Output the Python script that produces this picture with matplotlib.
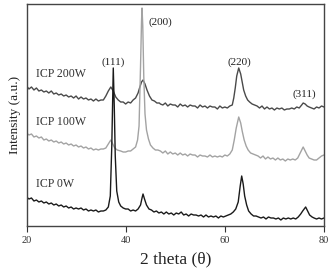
import matplotlib
matplotlib.use("Agg")
import matplotlib.pyplot as plt

plt.rcParams['font.family'] = ['Liberation Serif', 'DejaVu Serif']

# (2theta, intensity), arbitrary units
pts_200w = [
    (20, 140), (20.5, 137), (21, 139), (21.5, 136), (22, 138), (22.5, 135), (23, 136), (23.5, 134),
    (24, 135), (24.5, 133), (25, 135), (25.5, 132), (26, 133), (26.5, 131), (27, 132), (27.5, 130),
    (28, 131), (28.5, 129), (29, 130), (29.5, 128), (30, 130), (30.5, 127), (31, 129), (31.5, 127),
    (32, 128), (32.5, 126), (33, 127), (33.5, 125), (34, 127), (34.5, 125), (35, 126), (35.5, 126),
    (36, 130), (36.5, 135), (37, 139), (37.5, 135), (38, 129), (38.5, 126), (39, 124), (39.5, 124),
    (40, 122), (40.5, 124), (41, 123), (41.5, 126), (42, 128), (42.5, 133), (42.8, 138), (43.2, 144),
    (43.5, 146), (43.9, 142), (44.3, 136), (44.8, 130), (45.3, 126), (45.8, 125), (46.3, 123), (46.8, 123),
    (47, 122), (47.5, 121), (48, 123), (48.5, 120), (49, 122), (49.5, 121), (50, 121), (50.5, 119),
    (51, 122), (51.5, 120), (52, 121), (52.5, 119), (53, 121), (53.5, 120), (54, 120), (54.5, 118),
    (55, 121), (55.5, 119), (56, 120), (56.5, 118), (57, 120), (57.5, 119), (58, 119), (58.5, 117),
    (59, 120), (59.5, 118), (60, 119), (60.5, 118), (61, 120), (61.5, 121), (61.8, 128), (62.1, 138),
    (62.4, 150), (62.8, 158), (63.2, 152), (63.5, 144), (63.8, 136), (64.2, 130), (64.6, 126), (65, 124),
    (65.5, 122), (66, 121), (66.5, 120), (67, 118), (67.5, 120), (68, 117), (68.5, 119), (69, 117),
    (69.5, 118), (70, 116), (70.5, 118), (71, 117), (71.5, 118), (72, 116), (72.5, 117), (73, 117),
    (73.5, 118), (74, 117), (74.5, 119), (75, 118), (75.5, 121), (75.8, 123), (76.2, 122), (76.6, 120),
    (77, 119), (77.5, 118), (78, 117), (78.5, 119), (79, 118), (79.5, 120), (80, 119),
]

pts_100w = [
    (20, 93), (20.5, 91), (21, 92), (21.5, 89), (22, 90), (22.5, 88), (23, 89), (23.5, 86),
    (24, 87), (24.5, 85), (25, 86), (25.5, 84), (26, 85), (26.5, 83), (27, 84), (27.5, 82),
    (28, 83), (28.5, 81), (29, 82), (29.5, 80), (30, 81), (30.5, 79), (31, 80), (31.5, 78),
    (32, 79), (32.5, 77), (33, 78), (33.5, 76), (34, 77), (34.5, 76), (35, 77), (35.5, 77),
    (36, 78), (36.5, 82), (37, 86), (37.4, 82), (37.8, 78), (38.3, 76), (39, 75), (39.5, 74),
    (40, 74), (40.5, 75), (41, 75), (41.5, 77), (42, 79), (42.4, 86), (42.7, 100), (43.0, 160),
    (43.2, 205), (43.3, 218), (43.45, 200), (43.65, 150), (43.9, 112), (44.2, 96), (44.6, 87), (45, 81),
    (45.5, 78), (46, 76), (46.5, 76), (47, 75), (47.5, 73), (48, 75), (48.5, 72), (49, 74),
    (49.5, 72), (50, 73), (50.5, 71), (51, 73), (51.5, 71), (52, 72), (52.5, 70), (53, 72),
    (53.5, 71), (54, 71), (54.5, 69), (55, 71), (55.5, 70), (56, 70), (56.5, 69), (57, 71),
    (57.5, 69), (58, 70), (58.5, 69), (59, 70), (59.5, 69), (60, 71), (60.5, 70), (61, 72),
    (61.5, 76), (61.9, 86), (62.3, 98), (62.8, 109), (63.2, 103), (63.5, 95), (63.9, 86), (64.3, 80),
    (64.7, 76), (65.2, 73), (65.7, 72), (66.2, 71), (66.7, 70), (67.2, 68), (67.7, 70), (68.2, 67),
    (68.7, 69), (69.2, 67), (69.7, 68), (70.2, 66), (70.7, 68), (71.2, 66), (71.7, 67), (72.2, 65),
    (72.7, 67), (73.2, 66), (73.7, 67), (74.2, 66), (74.7, 68), (75.1, 72), (75.5, 76), (75.8, 79),
    (76.2, 75), (76.6, 71), (77, 68), (77.5, 67), (78, 66), (78.5, 66), (79, 68), (79.5, 70), (80, 71),
]

pts_0w = [
    (20, 29), (20.5, 27), (21, 28), (21.5, 25), (22, 26), (22.5, 24), (23, 25), (23.5, 23),
    (24, 24), (24.5, 22), (25, 23), (25.5, 21), (26, 22), (26.5, 20), (27, 21), (27.5, 19),
    (28, 20), (28.5, 18), (29, 19), (29.5, 17), (30, 18), (30.5, 17), (31, 18), (31.5, 16),
    (32, 17), (32.5, 15), (33, 16), (33.5, 15), (34, 16), (34.5, 14), (35, 15), (35.5, 15),
    (36, 16), (36.5, 19), (36.9, 30), (37.2, 80), (37.5, 158), (37.7, 120), (37.9, 70), (38.2, 35),
    (38.6, 24), (39, 20), (39.5, 18), (40, 17), (40.5, 17), (41, 15), (41.5, 16), (42, 15),
    (42.5, 17), (43, 21), (43.3, 28), (43.5, 32), (43.8, 27), (44.2, 21), (44.7, 17), (45.2, 16),
    (45.7, 14), (46.2, 15), (46.7, 13), (47.2, 14), (47.7, 12), (48.2, 14), (48.7, 12), (49.2, 13),
    (49.7, 11), (50.2, 13), (50.7, 12), (51.2, 14), (51.7, 11), (52.2, 12), (52.7, 10), (53.2, 12),
    (53.7, 11), (54.2, 11), (54.7, 10), (55.2, 11), (55.7, 9), (56.2, 11), (56.7, 9), (57.2, 10),
    (57.7, 9), (58.2, 10), (58.7, 8), (59.2, 10), (59.7, 9), (60.2, 10), (60.7, 11), (61.2, 12),
    (61.7, 14), (62.2, 17), (62.7, 24), (63.1, 40), (63.4, 50), (63.7, 42), (64, 30), (64.4, 21),
    (64.8, 15), (65.3, 12), (65.8, 10), (66.3, 10), (66.8, 9), (67.3, 8), (67.8, 9), (68.3, 7),
    (68.8, 9), (69.3, 8), (69.8, 8), (70.3, 7), (70.8, 8), (71.3, 6), (71.8, 8), (72.3, 7),
    (72.8, 8), (73.3, 7), (73.8, 8), (74.3, 7), (74.8, 9), (75.3, 12), (75.7, 15), (76.3, 19),
    (76.7, 15), (77.1, 11), (77.6, 9), (78, 8), (78.5, 7), (79, 8), (79.5, 7), (80, 8),
]

labels = ['ICP 200W', 'ICP 100W', 'ICP 0W']
label_y = [146, 98, 36]
peaks = ['(111)', '(200)', '(220)', '(311)']
peak_x = [37.4, 46.9, 62.9, 76.0]
peak_y = [164, 204, 164, 132]

fig = plt.figure(figsize=(3.3, 2.68), dpi=100)
ax = fig.add_axes([26.5 / 330, 42 / 268, 297.5 / 330, 222 / 268])

for pts, c in ((pts_200w, '#4a4a4a'), (pts_100w, '#a3a3a3'), (pts_0w, '#1a1a1a')):
    xs, ys = zip(*pts)
    ax.plot(xs, ys, color=c, lw=1.0)

for t, yy in zip(labels, label_y):
    ax.text(21.9, yy, t, fontsize=8.6, color='#333333', va='bottom', ha='left')
for t, px, py in zip(peaks, peak_x, peak_y):
    ax.text(px, py, t, fontsize=8, color='#222222', va='center', ha='center')

ax.set_xlim(20, 80)
ax.set_ylim(0, 222)
ax.set_xticks([20, 40, 60, 80])
ax.set_yticks([])
ax.tick_params(axis='x', direction='out', length=4, labelsize=7.5, colors='#333333')
for s in ax.spines.values():
    s.set_color('#444444')
    s.set_linewidth(1.0)
ax.set_xlabel('2 theta (\u03b8)', fontsize=12.5, color='#222222', labelpad=4)
ax.set_ylabel('Intensity (a.u.)', fontsize=9.5, color='#222222', labelpad=4)

fig.savefig('out.png', dpi=100)
